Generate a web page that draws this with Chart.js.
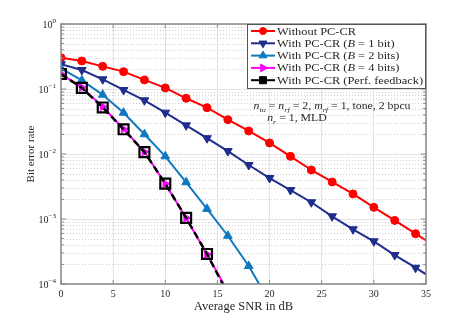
<!DOCTYPE html>
<html>
<head>
<meta charset="utf-8">
<script src="https://cdn.jsdelivr.net/npm/chart.js@4.4.1/dist/chart.umd.min.js"></script>
<style>
  html, body { margin: 0; padding: 0; background: #fff; }
  canvas { display: block; }
</style>
</head>
<body>
<canvas id="berChart" width="471" height="319"></canvas>
<script>
// SNR points (dB); the last one only carries the line to the right edge
const snrDb = [0, 2, 4, 6, 8, 10, 12, 14, 16, 18, 20, 22, 24, 26, 28, 30, 32, 34, 35];

const berNoPccr = [0.303, 0.27, 0.223, 0.185, 0.138, 0.104, 0.072, 0.0516, 0.0337, 0.0226,
                   0.0148, 0.0092, 0.00568, 0.00371, 0.00243, 0.00151, 0.00095, 0.000594, 0.00047];
const berB1 = [0.24, 0.196, 0.141, 0.0966, 0.067, 0.0432, 0.0276, 0.0175, 0.0111, 0.00677,
               0.00427, 0.00279, 0.00181, 0.0011, 0.000695, 0.000454, 0.000279, 0.000178, 0.000141];
const berB2 = [0.208, 0.136, 0.0817, 0.0432, 0.0201, 0.0092, 0.00367, 0.00143, 0.000553, 0.000189, 0.000053];
const berB4 = [0.17, 0.106, 0.0534, 0.0242, 0.0108, 0.00349, 0.00104, 0.000286, 0.000077];
const berPerfect = [0.17, 0.104, 0.052, 0.024, 0.0107, 0.0035, 0.00104, 0.00029, 0.00007];

const seriesNames = [
    'Without PC-CR',
    'With PC-CR (B = 1 bit)',
    'With PC-CR (B = 2 bits)',
    'With PC-CR (B = 4 bits)',
    'With PC-CR (Perf. feedback)'
];

const xTicks = [0, 5, 10, 15, 20, 25, 30, 35];
const yExponents = [0, -1, -2, -3, -4];

const SERIF = "'Liberation Serif', 'DejaVu Serif', serif";
const TEXT = '#262626';
const AXIS = '#8a8a8a';
const CM_STRETCH = 1.18; // latex text in the figure is wider than Times

function toPoints(values) {
    return values.map((v, i) => ({ x: snrDb[i], y: v }));
}

// draw text made of runs: [text, kind] with kind n = normal, i = italic, s = italic subscript
function drawRuns(ctx, runs, x, y, size, align, stretch) {
    const fontFor = k => (k === 'i' || k === 's' ? 'italic ' : '') + (k === 's' ? size * 0.7 : size) + 'px ' + SERIF;
    ctx.save();
    ctx.translate(x, y);
    ctx.scale(stretch, 1);
    ctx.textAlign = 'left';
    ctx.textBaseline = 'alphabetic';
    let w = 0;
    runs.forEach(([t, k]) => { ctx.font = fontFor(k); w += ctx.measureText(t).width; });
    let cx = align === 'center' ? -w / 2 : (align === 'right' ? -w : 0);
    runs.forEach(([t, k]) => {
        ctx.font = fontFor(k);
        ctx.fillText(t, cx, k === 's' ? size * 0.28 : 0);
        cx += ctx.measureText(t).width;
    });
    ctx.restore();
}

function legendRuns(name) {
    // the capital B is the only math symbol in the labels
    const parts = name.split('B');
    const runs = [];
    parts.forEach((p, i) => {
        if (i > 0) runs.push(['B', 'i']);
        if (p) runs.push([p, 'n']);
    });
    return runs;
}

const pointSize = (r) => (ctx) => (ctx.raw && ctx.raw.x === 35 ? 0 : r);

const matlabLook = {
    id: 'matlabLook',
    beforeDatasetsDraw(chart) {
        const { ctx, chartArea: a, scales: { y } } = chart;
        ctx.save();
        ctx.strokeStyle = '#cfcfcf';
        ctx.lineWidth = 1;
        ctx.setLineDash([1, 2]);
        for (let e = -4; e < 0; e++) {
            for (let m = 2; m <= 9; m++) {
                const py = Math.round(y.getPixelForValue(m * Math.pow(10, e))) + 0.5;
                ctx.beginPath();
                ctx.moveTo(a.left, py);
                ctx.lineTo(a.right, py);
                ctx.stroke();
            }
        }
        ctx.restore();
    },
    afterDatasetsDraw(chart) {
        const { ctx, chartArea: a, scales: { x, y } } = chart;
        ctx.save();

        // axis box
        ctx.strokeStyle = AXIS;
        ctx.lineWidth = 1.5;
        ctx.strokeRect(a.left, a.top, a.right - a.left, a.bottom - a.top);

        // inner tick marks
        ctx.lineWidth = 1;
        ctx.beginPath();
        xTicks.forEach(v => {
            const px = x.getPixelForValue(v);
            ctx.moveTo(px, a.bottom); ctx.lineTo(px, a.bottom - 4);
            ctx.moveTo(px, a.top); ctx.lineTo(px, a.top + 4);
        });
        for (let e = -4; e <= 0; e++) {
            for (let m = 1; m <= 9; m++) {
                if (e === 0 && m > 1) break;
                const py = y.getPixelForValue(m * Math.pow(10, e));
                const len = m === 1 ? 5 : 3;
                ctx.moveTo(a.left, py); ctx.lineTo(a.left + len, py);
                ctx.moveTo(a.right, py); ctx.lineTo(a.right - len, py);
            }
        }
        ctx.stroke();

        // tick labels
        ctx.fillStyle = TEXT;
        ctx.font = '10px ' + SERIF;
        ctx.textAlign = 'center';
        ctx.textBaseline = 'alphabetic';
        xTicks.forEach(v => ctx.fillText(String(v), x.getPixelForValue(v), a.bottom + 13));
        yExponents.forEach(e => {
            const py = y.getPixelForValue(Math.pow(10, e));
            const sup = String(e).replace('-', '\u2212');
            ctx.font = '7px ' + SERIF;
            const supW = ctx.measureText(sup).width;
            ctx.textAlign = 'left';
            ctx.fillText(sup, a.left - 5 - supW, py - 1);
            ctx.font = '10px ' + SERIF;
            ctx.textAlign = 'right';
            ctx.fillText('10', a.left - 5 - supW, py + 4);
        });

        // axis titles
        ctx.textAlign = 'center';
        ctx.font = '12.5px ' + SERIF;
        ctx.fillText('Average SNR in dB', (a.left + a.right) / 2, a.bottom + 26);
        ctx.save();
        ctx.translate(34, 154);
        ctx.rotate(-Math.PI / 2);
        ctx.font = '11px ' + SERIF;
        ctx.fillText('Bit error rate', 0, 0);
        ctx.restore();

        // system parameters
        drawRuns(ctx, [['n', 'i'], ['tu', 's'], [' = ', 'n'], ['n', 'i'], ['rf', 's'], [' = 2, ', 'n'],
                       ['m', 'i'], ['rf', 's'], [' = 1, tone, 2 bpcu', 'n']], 332, 109, 10, 'center', CM_STRETCH);
        drawRuns(ctx, [['n', 'i'], ['r', 's'], [' = 1, MLD', 'n']], 297, 121, 10, 'center', CM_STRETCH);

        // legend
        const lx = 247, ly = 24, lw = a.right - lx, lh = 64;
        ctx.fillStyle = '#fff';
        ctx.fillRect(lx, ly, lw, lh);
        ctx.strokeStyle = '#555';
        ctx.lineWidth = 1;
        ctx.strokeRect(lx + 0.5, ly + 0.5, lw - 1, lh);
        chart.data.datasets.forEach((ds, i) => {
            const ry = 31 + i * 12.3;
            ctx.save();
            ctx.strokeStyle = ds.borderColor;
            ctx.lineWidth = 2;
            ctx.setLineDash([]);
            ctx.beginPath();
            ctx.moveTo(251, ry); ctx.lineTo(275, ry);
            ctx.stroke();
            ctx.fillStyle = ds.borderColor;
            ctx.lineWidth = 1;
            Chart.helpers.drawPoint(ctx, {
                pointStyle: ds.pointStyle,
                rotation: ds.pointRotation || 0,
                radius: ds.legendRadius,
                borderWidth: 1
            }, 263, ry);
            ctx.restore();
            ctx.fillStyle = TEXT;
            drawRuns(ctx, legendRuns(ds.label), 277, ry + 3.5, 10.5, 'left', CM_STRETCH);
        });

        ctx.restore();
    }
};

new Chart(document.getElementById('berChart'), {
    type: 'line',
    data: {
        datasets: [
            {
                label: seriesNames[0],
                data: toPoints(berNoPccr),
                borderColor: '#ff0000',
                backgroundColor: '#ff0000',
                pointStyle: 'circle',
                pointRadius: pointSize(4),
                legendRadius: 3.5,
                order: 4
            },
            {
                label: seriesNames[1],
                data: toPoints(berB1),
                borderColor: '#1f2d8c',
                backgroundColor: '#1f2d8c',
                pointStyle: 'triangle',
                pointRotation: 180,
                pointRadius: pointSize(5),
                legendRadius: 4.5,
                order: 3
            },
            {
                label: seriesNames[2],
                data: toPoints(berB2),
                borderColor: '#0f78bf',
                backgroundColor: '#0f78bf',
                pointStyle: 'triangle',
                pointRadius: pointSize(5),
                legendRadius: 4.5,
                order: 2
            },
            {
                label: seriesNames[3],
                data: toPoints(berB4),
                borderColor: '#ff00ff',
                backgroundColor: '#ff00ff',
                pointStyle: 'triangle',
                pointRotation: 90,
                pointRadius: pointSize(4.5),
                legendRadius: 4.5,
                order: 1
            },
            {
                label: seriesNames[4],
                data: toPoints(berPerfect),
                borderColor: '#000000',
                backgroundColor: 'rgba(0,0,0,0)',
                borderDash: [7, 4],
                borderWidth: 2.5,
                pointStyle: 'rect',
                pointRadius: 7,
                pointBorderWidth: 2.2,
                legendRadius: 5,
                order: 0
            }
        ]
    },
    options: {
        responsive: false,
        animation: false,
        devicePixelRatio: 1,
        layout: { padding: { left: 0, right: 45, top: 24, bottom: 0 } },
        elements: {
            line: { borderWidth: 2, tension: 0 },
            point: { borderWidth: 1, hoverRadius: 4 }
        },
        plugins: {
            legend: { display: false },
            tooltip: { enabled: false }
        },
        scales: {
            x: {
                type: 'linear',
                min: 0,
                max: 35,
                ticks: { display: false, stepSize: 5 },
                grid: { color: '#e3e3e3', drawTicks: false },
                border: { display: false },
                afterFit(scale) { scale.height = 35; }
            },
            y: {
                type: 'logarithmic',
                min: 1e-4,
                max: 1,
                ticks: { display: false },
                grid: { color: '#e3e3e3', drawTicks: false },
                border: { display: false },
                afterBuildTicks(scale) {
                    scale.ticks = yExponents.map(e => ({ value: Math.pow(10, e) }));
                },
                afterFit(scale) { scale.width = 61; }
            }
        }
    },
    plugins: [matlabLook]
});
</script>
</body>
</html>
